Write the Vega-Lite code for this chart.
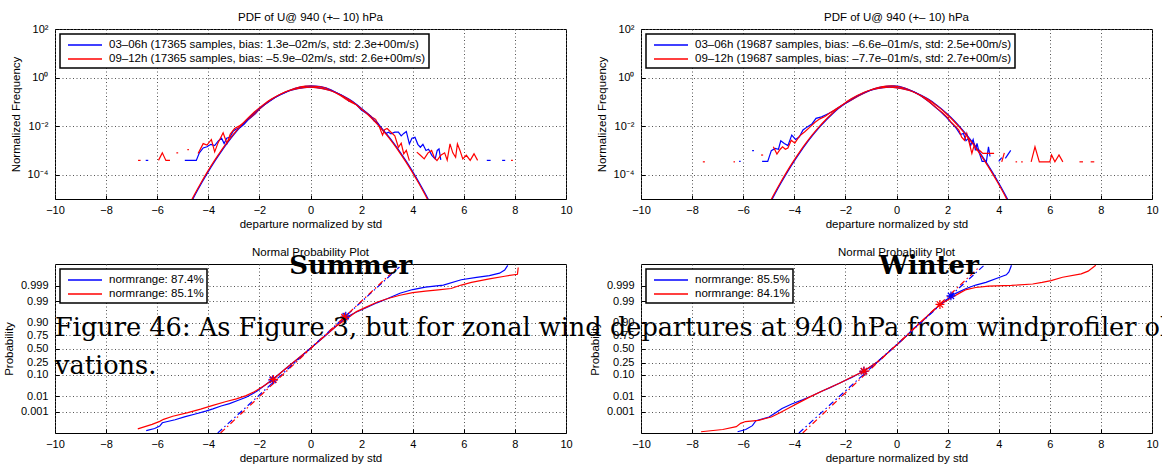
{
"$schema": "https://vega.github.io/schema/vega-lite/v6.json",
"autosize": "none",
"padding": {"left": 55, "top": 29, "right": 1107, "bottom": 435},
"background": "white",
"columns": 2,
"bounds": "flush",
"spacing": {"row": 65, "column": 75},
"resolve": {"scale": {"color": "independent", "stroke": "independent", "x": "independent", "y": "independent"}, "legend": {"color": "independent", "stroke": "independent"}},
"config": {
  "font": "Liberation Sans",
  "view": {"stroke": "black", "strokeWidth": 1},
  "axis": {"labelFont": "Liberation Sans", "labelFontSize": 11, "labelColor": "black", "titleFont": "Liberation Sans", "titleFontSize": 11.5, "titleFontWeight": "normal", "titleColor": "black", "domain": false, "ticks": true, "tickSize": -4, "tickColor": "black", "tickWidth": 1, "grid": true, "gridColor": "#555", "gridDash": [1, 2.5], "gridWidth": 1, "labelFlush": false, "labelOverlap": false},
  "axisX": {"labelPadding": 9, "titlePadding": 3},
  "axisY": {"labelPadding": 11, "titlePadding": 6},
  "title": {"font": "Liberation Sans", "fontSize": 11.5, "fontWeight": "normal", "color": "black", "anchor": "middle"},
  "legend": {"orient": "top-left", "offset": 5, "padding": 3, "strokeColor": "black", "strokeWidth": 1.5, "fillColor": "white", "symbolType": "M-2.43,0L2.43,0", "symbolSize": 196, "symbolStrokeWidth": 1.3, "symbolOffset": 14, "labelOffset": 16, "labelFont": "Liberation Sans", "labelFontSize": 11.5, "labelColor": "black", "labelLimit": 0, "rowPadding": 0}
},
"datasets": {
  "empS": [
    {"s":"b","g":1,"x":-6.45,"y":0.000389},{"s":"b","g":1,"x":-6.35,"y":0.000389},
    {"s":"b","g":2,"x":-4.92,"y":0.000389},{"s":"b","g":2,"x":-4.47,"y":0.000389},{"s":"b","g":2,"x":-4.35,"y":0.000794},{"s":"b","g":2,"x":-4.2,"y":0.00126},{"s":"b","g":2,"x":-4.05,"y":0.00141},{"s":"b","g":2,"x":-3.9,"y":0.00178},{"s":"b","g":2,"x":-3.75,"y":0.00158},{"s":"b","g":2,"x":-3.6,"y":0.00251},{"s":"b","g":2,"x":-3.48,"y":0.00316},{"s":"b","g":2,"x":-3.38,"y":0.00191},{"s":"b","g":2,"x":-3.28,"y":0.00316},{"s":"b","g":2,"x":-3.15,"y":0.00355},{"s":"b","g":2,"x":-3.02,"y":0.00631},{"s":"b","g":2,"x":-2.9,"y":0.00759},{"s":"b","g":2,"x":-2.75,"y":0.00891},{"s":"b","g":2,"x":-2.6,"y":0.012},{"s":"b","g":2,"x":-2.45,"y":0.0178},{"s":"b","g":2,"x":-2.3,"y":0.024},{"s":"b","g":2,"x":-2.15,"y":0.0331},{"s":"b","g":2,"x":-2.0,"y":0.0501},{"s":"b","g":2,"x":-1.8,"y":0.0759},{"s":"b","g":2,"x":-1.6,"y":0.107},{"s":"b","g":2,"x":-1.4,"y":0.148},{"s":"b","g":2,"x":-1.2,"y":0.191},{"s":"b","g":2,"x":-1.0,"y":0.24},{"s":"b","g":2,"x":-0.8,"y":0.302},{"s":"b","g":2,"x":-0.6,"y":0.363},{"s":"b","g":2,"x":-0.4,"y":0.407},{"s":"b","g":2,"x":-0.2,"y":0.437},{"s":"b","g":2,"x":0,"y":0.457},{"s":"b","g":2,"x":0.2,"y":0.447},{"s":"b","g":2,"x":0.4,"y":0.427},{"s":"b","g":2,"x":0.6,"y":0.38},{"s":"b","g":2,"x":0.8,"y":0.316},{"s":"b","g":2,"x":1.0,"y":0.24},{"s":"b","g":2,"x":1.2,"y":0.191},{"s":"b","g":2,"x":1.4,"y":0.138},{"s":"b","g":2,"x":1.5,"y":0.107},{"s":"b","g":2,"x":1.6,"y":0.105},{"s":"b","g":2,"x":1.8,"y":0.0759},{"s":"b","g":2,"x":2.0,"y":0.0447},{"s":"b","g":2,"x":2.2,"y":0.0331},{"s":"b","g":2,"x":2.35,"y":0.0263},{"s":"b","g":2,"x":2.5,"y":0.0158},{"s":"b","g":2,"x":2.62,"y":0.0141},{"s":"b","g":2,"x":2.75,"y":0.00891},{"s":"b","g":2,"x":2.85,"y":0.00631},{"s":"b","g":2,"x":2.95,"y":0.00501},{"s":"b","g":2,"x":3.05,"y":0.00562},{"s":"b","g":2,"x":3.15,"y":0.00479},{"s":"b","g":2,"x":3.3,"y":0.00562},{"s":"b","g":2,"x":3.44,"y":0.00562},{"s":"b","g":2,"x":3.55,"y":0.00398},{"s":"b","g":2,"x":3.65,"y":0.00501},{"s":"b","g":2,"x":3.75,"y":0.00603},{"s":"b","g":2,"x":3.87,"y":0.00186},{"s":"b","g":2,"x":3.97,"y":0.00316},{"s":"b","g":2,"x":4.09,"y":0.00347},{"s":"b","g":2,"x":4.2,"y":0.00178},{"s":"b","g":2,"x":4.3,"y":0.00135},{"s":"b","g":2,"x":4.4,"y":0.00178},{"s":"b","g":2,"x":4.52,"y":0.001},{"s":"b","g":2,"x":4.62,"y":0.00112},{"s":"b","g":2,"x":4.75,"y":0.000631},{"s":"b","g":2,"x":4.88,"y":0.000447},{"s":"b","g":2,"x":4.96,"y":0.001},{"s":"b","g":2,"x":5.03,"y":0.00115},{"s":"b","g":2,"x":5.1,"y":0.000407},
    {"s":"b","g":3,"x":6.9,"y":0.000389},{"s":"b","g":3,"x":7.05,"y":0.000389},
    {"s":"b","g":4,"x":7.5,"y":0.000389},{"s":"b","g":4,"x":7.62,"y":0.000389},
    {"s":"r","g":5,"x":-6.75,"y":0.000389},{"s":"r","g":5,"x":-6.65,"y":0.000389},
    {"s":"r","g":6,"x":-5.95,"y":0.000389},{"s":"r","g":6,"x":-5.8,"y":0.000794},{"s":"r","g":6,"x":-5.66,"y":0.000389},{"s":"r","g":6,"x":-5.5,"y":0.000389},
    {"s":"r","g":7,"x":-5.25,"y":0.000794},{"s":"r","g":7,"x":-5.18,"y":0.000794},
    {"s":"r","g":8,"x":-4.82,"y":0.00107},{"s":"r","g":8,"x":-4.76,"y":0.00107},
    {"s":"r","g":9,"x":-4.4,"y":0.000741},{"s":"r","g":9,"x":-4.2,"y":0.00191},{"s":"r","g":9,"x":-4.05,"y":0.00166},{"s":"r","g":9,"x":-3.88,"y":0.00282},{"s":"r","g":9,"x":-3.75,"y":0.000871},{"s":"r","g":9,"x":-3.62,"y":0.00204},{"s":"r","g":9,"x":-3.42,"y":0.00537},{"s":"r","g":9,"x":-3.27,"y":0.00195},{"s":"r","g":9,"x":-3.14,"y":0.00468},{"s":"r","g":9,"x":-2.97,"y":0.00794},{"s":"r","g":9,"x":-2.8,"y":0.01},{"s":"r","g":9,"x":-2.6,"y":0.0141},{"s":"r","g":9,"x":-2.45,"y":0.0191},{"s":"r","g":9,"x":-2.3,"y":0.0251},{"s":"r","g":9,"x":-2.15,"y":0.0355},{"s":"r","g":9,"x":-2.0,"y":0.0501},{"s":"r","g":9,"x":-1.8,"y":0.0759},{"s":"r","g":9,"x":-1.6,"y":0.11},{"s":"r","g":9,"x":-1.4,"y":0.151},{"s":"r","g":9,"x":-1.2,"y":0.2},{"s":"r","g":9,"x":-1.0,"y":0.251},{"s":"r","g":9,"x":-0.8,"y":0.309},{"s":"r","g":9,"x":-0.6,"y":0.363},{"s":"r","g":9,"x":-0.4,"y":0.417},{"s":"r","g":9,"x":-0.2,"y":0.447},{"s":"r","g":9,"x":0,"y":0.447},{"s":"r","g":9,"x":0.2,"y":0.437},{"s":"r","g":9,"x":0.4,"y":0.417},{"s":"r","g":9,"x":0.6,"y":0.372},{"s":"r","g":9,"x":0.8,"y":0.302},{"s":"r","g":9,"x":1.0,"y":0.234},{"s":"r","g":9,"x":1.2,"y":0.174},{"s":"r","g":9,"x":1.4,"y":0.126},{"s":"r","g":9,"x":1.6,"y":0.0955},{"s":"r","g":9,"x":1.8,"y":0.0759},{"s":"r","g":9,"x":2.0,"y":0.0479},{"s":"r","g":9,"x":2.2,"y":0.0355},{"s":"r","g":9,"x":2.4,"y":0.024},{"s":"r","g":9,"x":2.55,"y":0.0191},{"s":"r","g":9,"x":2.7,"y":0.00891},{"s":"r","g":9,"x":2.82,"y":0.00427},{"s":"r","g":9,"x":2.9,"y":0.00708},{"s":"r","g":9,"x":3.0,"y":0.00794},{"s":"r","g":9,"x":3.15,"y":0.00562},{"s":"r","g":9,"x":3.3,"y":0.00398},{"s":"r","g":9,"x":3.44,"y":0.00135},{"s":"r","g":9,"x":3.55,"y":0.002},{"s":"r","g":9,"x":3.65,"y":0.000724},{"s":"r","g":9,"x":3.75,"y":0.001},{"s":"r","g":9,"x":3.87,"y":0.00038},
    {"s":"r","g":10,"x":4.16,"y":0.000851},{"s":"r","g":10,"x":4.3,"y":0.000631},{"s":"r","g":10,"x":4.45,"y":0.000447},{"s":"r","g":10,"x":4.6,"y":0.000794},{"s":"r","g":10,"x":4.74,"y":0.001},{"s":"r","g":10,"x":4.85,"y":0.000501},{"s":"r","g":10,"x":4.95,"y":0.00038},{"s":"r","g":10,"x":5.1,"y":0.000631},{"s":"r","g":10,"x":5.25,"y":0.000794},{"s":"r","g":10,"x":5.35,"y":0.000398},{"s":"r","g":10,"x":5.46,"y":0.00186},{"s":"r","g":10,"x":5.57,"y":0.000794},{"s":"r","g":10,"x":5.68,"y":0.000525},{"s":"r","g":10,"x":5.75,"y":0.00186},{"s":"r","g":10,"x":5.85,"y":0.001},{"s":"r","g":10,"x":5.96,"y":0.000447},{"s":"r","g":10,"x":6.1,"y":0.000631},{"s":"r","g":10,"x":6.25,"y":0.000389},{"s":"r","g":10,"x":6.4,"y":0.000724},{"s":"r","g":10,"x":6.54,"y":0.000389},
    {"s":"r","g":11,"x":7.85,"y":0.000389},{"s":"r","g":11,"x":7.92,"y":0.000389}
  ],
  "empW": [
    {"s":"b","g":1,"x":-6.16,"y":0.000355},{"s":"b","g":1,"x":-6.1,"y":0.000355},
    {"s":"b","g":2,"x":-5.65,"y":0.000977},{"s":"b","g":2,"x":-5.58,"y":0.000977},
    {"s":"b","g":3,"x":-5.26,"y":0.000355},{"s":"b","g":3,"x":-5.04,"y":0.000355},{"s":"b","g":3,"x":-4.9,"y":0.000977},{"s":"b","g":3,"x":-4.75,"y":0.0012},{"s":"b","g":3,"x":-4.62,"y":0.00112},{"s":"b","g":3,"x":-4.53,"y":0.00251},{"s":"b","g":3,"x":-4.39,"y":0.00195},{"s":"b","g":3,"x":-4.25,"y":0.00158},{"s":"b","g":3,"x":-4.1,"y":0.00427},{"s":"b","g":3,"x":-3.95,"y":0.00282},{"s":"b","g":3,"x":-3.8,"y":0.00363},{"s":"b","g":3,"x":-3.66,"y":0.00692},{"s":"b","g":3,"x":-3.49,"y":0.00933},{"s":"b","g":3,"x":-3.3,"y":0.0126},{"s":"b","g":3,"x":-3.15,"y":0.0209},{"s":"b","g":3,"x":-2.93,"y":0.024},{"s":"b","g":3,"x":-2.7,"y":0.0316},{"s":"b","g":3,"x":-2.5,"y":0.0398},{"s":"b","g":3,"x":-2.3,"y":0.0562},{"s":"b","g":3,"x":-2.1,"y":0.0759},{"s":"b","g":3,"x":-1.9,"y":0.1},{"s":"b","g":3,"x":-1.7,"y":0.132},{"s":"b","g":3,"x":-1.5,"y":0.174},{"s":"b","g":3,"x":-1.3,"y":0.224},{"s":"b","g":3,"x":-1.1,"y":0.275},{"s":"b","g":3,"x":-0.9,"y":0.339},{"s":"b","g":3,"x":-0.7,"y":0.389},{"s":"b","g":3,"x":-0.5,"y":0.427},{"s":"b","g":3,"x":-0.3,"y":0.447},{"s":"b","g":3,"x":-0.1,"y":0.457},{"s":"b","g":3,"x":0.1,"y":0.437},{"s":"b","g":3,"x":0.3,"y":0.38},{"s":"b","g":3,"x":0.5,"y":0.316},{"s":"b","g":3,"x":0.7,"y":0.251},{"s":"b","g":3,"x":0.9,"y":0.191},{"s":"b","g":3,"x":1.1,"y":0.138},{"s":"b","g":3,"x":1.3,"y":0.0955},{"s":"b","g":3,"x":1.5,"y":0.0631},{"s":"b","g":3,"x":1.7,"y":0.0417},{"s":"b","g":3,"x":1.9,"y":0.0263},{"s":"b","g":3,"x":2.05,"y":0.0178},{"s":"b","g":3,"x":2.2,"y":0.012},{"s":"b","g":3,"x":2.35,"y":0.00794},{"s":"b","g":3,"x":2.5,"y":0.00447},{"s":"b","g":3,"x":2.62,"y":0.00501},{"s":"b","g":3,"x":2.72,"y":0.00251},{"s":"b","g":3,"x":2.82,"y":0.00316},{"s":"b","g":3,"x":2.9,"y":0.00158},{"s":"b","g":3,"x":3.0,"y":0.00282},{"s":"b","g":3,"x":3.09,"y":0.001},{"s":"b","g":3,"x":3.15,"y":0.00195},{"s":"b","g":3,"x":3.24,"y":0.000794},{"s":"b","g":3,"x":3.35,"y":0.000355},{"s":"b","g":3,"x":3.52,"y":0.000355},{"s":"b","g":3,"x":3.6,"y":0.00141},{"s":"b","g":3,"x":3.66,"y":0.000562},
    {"s":"b","g":4,"x":4.0,"y":0.000355},{"s":"b","g":4,"x":4.12,"y":0.000501},
    {"s":"b","g":5,"x":4.26,"y":0.000468},{"s":"b","g":5,"x":4.47,"y":0.001},
    {"s":"r","g":6,"x":-7.58,"y":0.000339},{"s":"r","g":6,"x":-7.5,"y":0.000339},
    {"s":"r","g":7,"x":-6.38,"y":0.000339},{"s":"r","g":7,"x":-6.32,"y":0.000339},
    {"s":"r","g":8,"x":-5.3,"y":0.000646},{"s":"r","g":8,"x":-5.22,"y":0.000646},
    {"s":"r","g":9,"x":-4.82,"y":0.00141},{"s":"r","g":9,"x":-4.68,"y":0.000708},{"s":"r","g":9,"x":-4.55,"y":0.00112},{"s":"r","g":9,"x":-4.46,"y":0.00141},{"s":"r","g":9,"x":-4.35,"y":0.00112},{"s":"r","g":9,"x":-4.25,"y":0.00126},{"s":"r","g":9,"x":-4.12,"y":0.00263},{"s":"r","g":9,"x":-3.98,"y":0.002},{"s":"r","g":9,"x":-3.8,"y":0.00389},{"s":"r","g":9,"x":-3.59,"y":0.00589},{"s":"r","g":9,"x":-3.4,"y":0.00891},{"s":"r","g":9,"x":-3.2,"y":0.0141},{"s":"r","g":9,"x":-3.0,"y":0.02},{"s":"r","g":9,"x":-2.8,"y":0.0251},{"s":"r","g":9,"x":-2.6,"y":0.0355},{"s":"r","g":9,"x":-2.4,"y":0.0479},{"s":"r","g":9,"x":-2.2,"y":0.0661},{"s":"r","g":9,"x":-2.0,"y":0.0871},{"s":"r","g":9,"x":-1.8,"y":0.115},{"s":"r","g":9,"x":-1.6,"y":0.151},{"s":"r","g":9,"x":-1.4,"y":0.195},{"s":"r","g":9,"x":-1.2,"y":0.251},{"s":"r","g":9,"x":-1.0,"y":0.316},{"s":"r","g":9,"x":-0.8,"y":0.372},{"s":"r","g":9,"x":-0.6,"y":0.417},{"s":"r","g":9,"x":-0.4,"y":0.447},{"s":"r","g":9,"x":-0.2,"y":0.457},{"s":"r","g":9,"x":0.0,"y":0.437},{"s":"r","g":9,"x":0.2,"y":0.398},{"s":"r","g":9,"x":0.4,"y":0.347},{"s":"r","g":9,"x":0.6,"y":0.282},{"s":"r","g":9,"x":0.8,"y":0.219},{"s":"r","g":9,"x":1.0,"y":0.166},{"s":"r","g":9,"x":1.2,"y":0.117},{"s":"r","g":9,"x":1.4,"y":0.0794},{"s":"r","g":9,"x":1.6,"y":0.0525},{"s":"r","g":9,"x":1.8,"y":0.0355},{"s":"r","g":9,"x":2.0,"y":0.0224},{"s":"r","g":9,"x":2.15,"y":0.0141},{"s":"r","g":9,"x":2.3,"y":0.01},{"s":"r","g":9,"x":2.44,"y":0.00692},{"s":"r","g":9,"x":2.55,"y":0.00355},{"s":"r","g":9,"x":2.66,"y":0.00263},{"s":"r","g":9,"x":2.75,"y":0.00501},{"s":"r","g":9,"x":2.85,"y":0.002},{"s":"r","g":9,"x":2.95,"y":0.000759},{"s":"r","g":9,"x":3.05,"y":0.00178},{"s":"r","g":9,"x":3.15,"y":0.001},{"s":"r","g":9,"x":3.24,"y":0.00102},{"s":"r","g":9,"x":3.38,"y":0.000759},{"s":"r","g":9,"x":3.55,"y":0.000759},{"s":"r","g":9,"x":3.82,"y":0.000759},
    {"s":"r","g":10,"x":4.12,"y":0.000339},{"s":"r","g":10,"x":4.22,"y":0.000794},
    {"s":"r","g":11,"x":4.66,"y":0.000339},{"s":"r","g":11,"x":4.72,"y":0.000339},
    {"s":"r","g":12,"x":4.88,"y":0.000339},{"s":"r","g":12,"x":4.94,"y":0.000339},
    {"s":"r","g":13,"x":5.27,"y":0.000339},{"s":"r","g":13,"x":5.42,"y":0.00141},{"s":"r","g":13,"x":5.59,"y":0.000339},{"s":"r","g":13,"x":5.8,"y":0.000339},{"s":"r","g":13,"x":6.0,"y":0.000339},{"s":"r","g":13,"x":6.07,"y":0.000646},{"s":"r","g":13,"x":6.2,"y":0.000339},{"s":"r","g":13,"x":6.36,"y":0.000646},{"s":"r","g":13,"x":6.51,"y":0.000339},
    {"s":"r","g":14,"x":7.16,"y":0.000339},{"s":"r","g":14,"x":7.3,"y":0.000339},
    {"s":"r","g":15,"x":7.6,"y":0.000339},{"s":"r","g":15,"x":7.74,"y":0.000339}
  ],
  "gauS": [
    {"s":"b","x":-4.75,"y":5.03e-6},{"s":"b","x":-4.5,"y":1.6e-5},{"s":"b","x":-4.25,"y":4.77e-5},{"s":"b","x":-4,"y":1.34e-4},{"s":"b","x":-3.75,"y":3.53e-4},{"s":"b","x":-3.5,"y":8.73e-4},{"s":"b","x":-3.25,"y":0.00203},{"s":"b","x":-3,"y":0.00443},{"s":"b","x":-2.75,"y":0.00909},{"s":"b","x":-2.5,"y":0.0175},{"s":"b","x":-2.25,"y":0.0317},{"s":"b","x":-2,"y":0.054},{"s":"b","x":-1.75,"y":0.0863},{"s":"b","x":-1.5,"y":0.1295},{"s":"b","x":-1.25,"y":0.1826},{"s":"b","x":-1,"y":0.242},{"s":"b","x":-0.75,"y":0.3011},{"s":"b","x":-0.5,"y":0.3521},{"s":"b","x":-0.25,"y":0.3867},{"s":"b","x":0,"y":0.3989},{"s":"b","x":0.25,"y":0.3867},{"s":"b","x":0.5,"y":0.3521},{"s":"b","x":0.75,"y":0.3011},{"s":"b","x":1,"y":0.242},{"s":"b","x":1.25,"y":0.1826},{"s":"b","x":1.5,"y":0.1295},{"s":"b","x":1.75,"y":0.0863},{"s":"b","x":2,"y":0.054},{"s":"b","x":2.25,"y":0.0317},{"s":"b","x":2.5,"y":0.0175},{"s":"b","x":2.75,"y":0.00909},{"s":"b","x":3,"y":0.00443},{"s":"b","x":3.25,"y":0.00203},{"s":"b","x":3.5,"y":8.73e-4},{"s":"b","x":3.75,"y":3.53e-4},{"s":"b","x":4,"y":1.34e-4},{"s":"b","x":4.25,"y":4.77e-5},{"s":"b","x":4.5,"y":1.6e-5},{"s":"b","x":4.75,"y":5.03e-6},
    {"s":"r","x":-4.78,"y":5.03e-6},{"s":"r","x":-4.53,"y":1.6e-5},{"s":"r","x":-4.28,"y":4.77e-5},{"s":"r","x":-4.03,"y":1.34e-4},{"s":"r","x":-3.78,"y":3.53e-4},{"s":"r","x":-3.53,"y":8.73e-4},{"s":"r","x":-3.28,"y":0.00203},{"s":"r","x":-3.03,"y":0.00443},{"s":"r","x":-2.78,"y":0.00909},{"s":"r","x":-2.53,"y":0.0175},{"s":"r","x":-2.28,"y":0.0317},{"s":"r","x":-2.03,"y":0.054},{"s":"r","x":-1.78,"y":0.0863},{"s":"r","x":-1.53,"y":0.1295},{"s":"r","x":-1.28,"y":0.1826},{"s":"r","x":-1.03,"y":0.242},{"s":"r","x":-0.78,"y":0.3011},{"s":"r","x":-0.53,"y":0.3521},{"s":"r","x":-0.28,"y":0.3867},{"s":"r","x":-0.03,"y":0.3989},{"s":"r","x":0.22,"y":0.3867},{"s":"r","x":0.47,"y":0.3521},{"s":"r","x":0.72,"y":0.3011},{"s":"r","x":0.97,"y":0.242},{"s":"r","x":1.22,"y":0.1826},{"s":"r","x":1.47,"y":0.1295},{"s":"r","x":1.72,"y":0.0863},{"s":"r","x":1.97,"y":0.054},{"s":"r","x":2.22,"y":0.0317},{"s":"r","x":2.47,"y":0.0175},{"s":"r","x":2.72,"y":0.00909},{"s":"r","x":2.97,"y":0.00443},{"s":"r","x":3.22,"y":0.00203},{"s":"r","x":3.47,"y":8.73e-4},{"s":"r","x":3.72,"y":3.53e-4},{"s":"r","x":3.97,"y":1.34e-4},{"s":"r","x":4.22,"y":4.77e-5},{"s":"r","x":4.47,"y":1.6e-5},{"s":"r","x":4.72,"y":5.03e-6}
  ],
  "gauW": [
    {"s":"b","x":-5.01,"y":5.03e-6},{"s":"b","x":-4.76,"y":1.6e-5},{"s":"b","x":-4.51,"y":4.77e-5},{"s":"b","x":-4.26,"y":1.34e-4},{"s":"b","x":-4.01,"y":3.53e-4},{"s":"b","x":-3.76,"y":8.73e-4},{"s":"b","x":-3.51,"y":0.00203},{"s":"b","x":-3.26,"y":0.00443},{"s":"b","x":-3.01,"y":0.00909},{"s":"b","x":-2.76,"y":0.0175},{"s":"b","x":-2.51,"y":0.0317},{"s":"b","x":-2.26,"y":0.054},{"s":"b","x":-2.01,"y":0.0863},{"s":"b","x":-1.76,"y":0.1295},{"s":"b","x":-1.51,"y":0.1826},{"s":"b","x":-1.26,"y":0.242},{"s":"b","x":-1.01,"y":0.3011},{"s":"b","x":-0.76,"y":0.3521},{"s":"b","x":-0.51,"y":0.3867},{"s":"b","x":-0.26,"y":0.3989},{"s":"b","x":-0.01,"y":0.3867},{"s":"b","x":0.24,"y":0.3521},{"s":"b","x":0.49,"y":0.3011},{"s":"b","x":0.74,"y":0.242},{"s":"b","x":0.99,"y":0.1826},{"s":"b","x":1.24,"y":0.1295},{"s":"b","x":1.49,"y":0.0863},{"s":"b","x":1.74,"y":0.054},{"s":"b","x":1.99,"y":0.0317},{"s":"b","x":2.24,"y":0.0175},{"s":"b","x":2.49,"y":0.00909},{"s":"b","x":2.74,"y":0.00443},{"s":"b","x":2.99,"y":0.00203},{"s":"b","x":3.24,"y":8.73e-4},{"s":"b","x":3.49,"y":3.53e-4},{"s":"b","x":3.74,"y":1.34e-4},{"s":"b","x":3.99,"y":4.77e-5},{"s":"b","x":4.24,"y":1.6e-5},{"s":"b","x":4.49,"y":5.03e-6},
    {"s":"r","x":-5.04,"y":5.03e-6},{"s":"r","x":-4.79,"y":1.6e-5},{"s":"r","x":-4.54,"y":4.77e-5},{"s":"r","x":-4.29,"y":1.34e-4},{"s":"r","x":-4.04,"y":3.53e-4},{"s":"r","x":-3.79,"y":8.73e-4},{"s":"r","x":-3.54,"y":0.00203},{"s":"r","x":-3.29,"y":0.00443},{"s":"r","x":-3.04,"y":0.00909},{"s":"r","x":-2.79,"y":0.0175},{"s":"r","x":-2.54,"y":0.0317},{"s":"r","x":-2.29,"y":0.054},{"s":"r","x":-2.04,"y":0.0863},{"s":"r","x":-1.79,"y":0.1295},{"s":"r","x":-1.54,"y":0.1826},{"s":"r","x":-1.29,"y":0.242},{"s":"r","x":-1.04,"y":0.3011},{"s":"r","x":-0.79,"y":0.3521},{"s":"r","x":-0.54,"y":0.3867},{"s":"r","x":-0.29,"y":0.3989},{"s":"r","x":-0.04,"y":0.3867},{"s":"r","x":0.21,"y":0.3521},{"s":"r","x":0.46,"y":0.3011},{"s":"r","x":0.71,"y":0.242},{"s":"r","x":0.96,"y":0.1826},{"s":"r","x":1.21,"y":0.1295},{"s":"r","x":1.46,"y":0.0863},{"s":"r","x":1.71,"y":0.054},{"s":"r","x":1.96,"y":0.0317},{"s":"r","x":2.21,"y":0.0175},{"s":"r","x":2.46,"y":0.00909},{"s":"r","x":2.71,"y":0.00443},{"s":"r","x":2.96,"y":0.00203},{"s":"r","x":3.21,"y":8.73e-4},{"s":"r","x":3.46,"y":3.53e-4},{"s":"r","x":3.71,"y":1.34e-4},{"s":"r","x":3.96,"y":4.77e-5},{"s":"r","x":4.21,"y":1.6e-5},{"s":"r","x":4.46,"y":5.03e-6}
  ],
  "npS": [
    {"s":"b","x":-6.43,"z":-4.0},{"s":"b","x":-6.1,"z":-3.9},{"s":"b","x":-5.9,"z":-3.78},{"s":"b","x":-5.8,"z":-3.62},{"s":"b","x":-5.3,"z":-3.47},{"s":"b","x":-4.9,"z":-3.32},{"s":"b","x":-4.47,"z":-3.18},{"s":"b","x":-4.1,"z":-3.05},{"s":"b","x":-3.82,"z":-2.94},{"s":"b","x":-3.5,"z":-2.8},{"s":"b","x":-3.17,"z":-2.68},{"s":"b","x":-2.85,"z":-2.53},{"s":"b","x":-2.52,"z":-2.37},{"s":"b","x":-2.3,"z":-2.22},{"s":"b","x":-2.1,"z":-2.08},{"s":"b","x":-1.8,"z":-1.8},{"s":"b","x":-1.48,"z":-1.5},{"s":"b","x":-1.0,"z":-1.0},{"s":"b","x":-0.5,"z":-0.5},{"s":"b","x":0,"z":0.02},{"s":"b","x":0.5,"z":0.55},{"s":"b","x":1.0,"z":1.1},{"s":"b","x":1.4,"z":1.55},{"s":"b","x":1.8,"z":1.8},{"s":"b","x":2.2,"z":2.02},{"s":"b","x":2.6,"z":2.25},{"s":"b","x":3.0,"z":2.45},{"s":"b","x":3.5,"z":2.72},{"s":"b","x":4.0,"z":2.9},{"s":"b","x":4.5,"z":3.02},{"s":"b","x":5.2,"z":3.12},{"s":"b","x":5.9,"z":3.38},{"s":"b","x":6.5,"z":3.5},{"s":"b","x":7.0,"z":3.58},{"s":"b","x":7.4,"z":3.7},{"s":"b","x":7.6,"z":3.85},{"s":"b","x":7.72,"z":4.08},
    {"s":"r","x":-6.76,"z":-3.92},{"s":"r","x":-6.2,"z":-3.7},{"s":"r","x":-5.9,"z":-3.55},{"s":"r","x":-5.75,"z":-3.45},{"s":"r","x":-5.39,"z":-3.3},{"s":"r","x":-4.8,"z":-3.12},{"s":"r","x":-4.3,"z":-2.95},{"s":"r","x":-3.82,"z":-2.77},{"s":"r","x":-3.3,"z":-2.58},{"s":"r","x":-2.9,"z":-2.45},{"s":"r","x":-2.52,"z":-2.29},{"s":"r","x":-2.2,"z":-2.1},{"s":"r","x":-1.8,"z":-1.8},{"s":"r","x":-1.45,"z":-1.48},{"s":"r","x":-1.0,"z":-1.0},{"s":"r","x":-0.5,"z":-0.48},{"s":"r","x":0,"z":0.03},{"s":"r","x":0.5,"z":0.56},{"s":"r","x":1.0,"z":1.1},{"s":"r","x":1.45,"z":1.5},{"s":"r","x":1.8,"z":1.82},{"s":"r","x":2.2,"z":2.05},{"s":"r","x":2.6,"z":2.28},{"s":"r","x":3.0,"z":2.45},{"s":"r","x":3.5,"z":2.62},{"s":"r","x":4.0,"z":2.75},{"s":"r","x":4.5,"z":2.82},{"s":"r","x":5.0,"z":2.88},{"s":"r","x":5.5,"z":2.95},{"s":"r","x":5.9,"z":3.12},{"s":"r","x":6.3,"z":3.25},{"s":"r","x":7.0,"z":3.42},{"s":"r","x":7.6,"z":3.55},{"s":"r","x":8.1,"z":3.65},{"s":"r","x":8.13,"z":3.98}
  ],
  "npW": [
    {"s":"b","x":-6.22,"z":-4.06},{"s":"b","x":-5.9,"z":-3.95},{"s":"b","x":-5.64,"z":-3.76},{"s":"b","x":-5.5,"z":-3.52},{"s":"b","x":-5.2,"z":-3.42},{"s":"b","x":-4.99,"z":-3.34},{"s":"b","x":-4.7,"z":-3.1},{"s":"b","x":-4.48,"z":-2.92},{"s":"b","x":-4.1,"z":-2.7},{"s":"b","x":-3.68,"z":-2.5},{"s":"b","x":-3.3,"z":-2.3},{"s":"b","x":-2.95,"z":-2.09},{"s":"b","x":-2.6,"z":-1.9},{"s":"b","x":-2.22,"z":-1.67},{"s":"b","x":-1.75,"z":-1.4},{"s":"b","x":-1.28,"z":-1.09},{"s":"b","x":-0.77,"z":-0.67},{"s":"b","x":-0.3,"z":-0.15},{"s":"b","x":0.2,"z":0.4},{"s":"b","x":0.68,"z":1.0},{"s":"b","x":1.1,"z":1.45},{"s":"b","x":1.41,"z":1.84},{"s":"b","x":1.7,"z":2.15},{"s":"b","x":1.99,"z":2.42},{"s":"b","x":2.3,"z":2.7},{"s":"b","x":2.73,"z":2.95},{"s":"b","x":3.1,"z":3.12},{"s":"b","x":3.5,"z":3.25},{"s":"b","x":4.04,"z":3.5},{"s":"b","x":4.3,"z":3.62},{"s":"b","x":4.4,"z":3.76},{"s":"b","x":4.5,"z":4.09},
    {"s":"r","x":-7.65,"z":-4.06},{"s":"r","x":-6.8,"z":-3.95},{"s":"r","x":-6.27,"z":-3.81},{"s":"r","x":-6.1,"z":-3.65},{"s":"r","x":-5.91,"z":-3.56},{"s":"r","x":-5.4,"z":-3.5},{"s":"r","x":-4.9,"z":-3.34},{"s":"r","x":-4.6,"z":-3.15},{"s":"r","x":-4.25,"z":-2.92},{"s":"r","x":-3.8,"z":-2.62},{"s":"r","x":-3.37,"z":-2.34},{"s":"r","x":-2.8,"z":-2.0},{"s":"r","x":-2.21,"z":-1.67},{"s":"r","x":-1.75,"z":-1.38},{"s":"r","x":-1.27,"z":-1.09},{"s":"r","x":-0.77,"z":-0.66},{"s":"r","x":-0.3,"z":-0.15},{"s":"r","x":0.2,"z":0.4},{"s":"r","x":0.68,"z":0.98},{"s":"r","x":1.2,"z":1.6},{"s":"r","x":1.71,"z":2.17},{"s":"r","x":2.15,"z":2.5},{"s":"r","x":2.5,"z":2.75},{"s":"r","x":2.73,"z":2.9},{"s":"r","x":3.1,"z":3.0},{"s":"r","x":3.6,"z":3.07},{"s":"r","x":4.5,"z":3.1},{"s":"r","x":5.33,"z":3.17},{"s":"r","x":5.7,"z":3.25},{"s":"r","x":6.05,"z":3.34},{"s":"r","x":6.5,"z":3.5},{"s":"r","x":7.23,"z":3.67},{"s":"r","x":7.5,"z":3.8},{"s":"r","x":7.8,"z":4.09}
  ],
  "fitS": [
    {"s":"b","x":-3.63,"z":-4.12},{"s":"b","x":3.48,"z":4.0},
    {"s":"r","x":-3.52,"z":-4.12},{"s":"r","x":3.42,"z":4.0}
  ],
  "fitW": [
    {"s":"b","x":-3.82,"z":-4.12},{"s":"b","x":3.53,"z":4.2},
    {"s":"r","x":-3.67,"z":-4.12},{"s":"r","x":3.24,"z":4.0}
  ],
  "starS": [
    {"s":"b","x":-1.48,"z":-1.52},{"s":"b","x":1.38,"z":1.6},
    {"s":"r","x":-1.45,"z":-1.5},{"s":"r","x":1.33,"z":1.55}
  ],
  "starW": [
    {"s":"b","x":-1.28,"z":-1.1},{"s":"b","x":2.13,"z":2.59},
    {"s":"r","x":-1.27,"z":-1.09},{"s":"r","x":1.7,"z":2.17}
  ]
},
"concat": [
  {
    "width": 511, "height": 170,
    "title": {"text": "PDF of U@ 940 (+– 10) hPa", "offset": 0},
    "encoding": {
      "x": {"field": "x", "type": "quantitative", "scale": {"domain": [-10, 10], "nice": false, "zero": false}, "axis": {"values": [-10,-8,-6,-4,-2,0,2,4,6,8,10], "title": "departure normalized by std"}},
      "y": {"field": "y", "type": "quantitative", "scale": {"type": "log", "domain": [0.00001, 100], "nice": false}, "axis": {"values": [0.0001, 0.01, 1, 100], "labelExpr": "datum.value > 10 ? '10²' : datum.value > 0.1 ? '10⁰' : datum.value > 0.001 ? '10⁻²' : '10⁻⁴'", "title": "Normalized Frequency"}}
    },
    "layer": [
      {"data": {"name": "empS"}, "mark": {"type": "line", "strokeWidth": 1.2, "clip": true},
       "encoding": {"color": {"field": "s", "type": "nominal", "scale": {"domain": ["b","r"], "range": ["#0000ff","#ff0000"]}, "legend": {"title": null, "labelExpr": "datum.value == 'b' ? '03–06h (17365 samples, bias: 1.3e–02m/s, std: 2.3e+00m/s)' : '09–12h (17365 samples, bias: –5.9e–02m/s, std: 2.6e+00m/s)'"}}, "detail": {"field": "g", "type": "nominal"}}},
      {"data": {"name": "gauS"}, "mark": {"type": "line", "strokeWidth": 1.2, "clip": true, "interpolate": "monotone"},
       "encoding": {"color": {"field": "s", "type": "nominal", "scale": {"domain": ["b","r"], "range": ["#0000ff","#ff0000"]}, "legend": {"title": null, "labelExpr": "datum.value == 'b' ? '03–06h (17365 samples, bias: 1.3e–02m/s, std: 2.3e+00m/s)' : '09–12h (17365 samples, bias: –5.9e–02m/s, std: 2.6e+00m/s)'"}}}}
    ]
  },
  {
    "width": 511, "height": 170,
    "title": {"text": "PDF of U@ 940 (+– 10) hPa", "offset": 0},
    "encoding": {
      "x": {"field": "x", "type": "quantitative", "scale": {"domain": [-10, 10], "nice": false, "zero": false}, "axis": {"values": [-10,-8,-6,-4,-2,0,2,4,6,8,10], "title": "departure normalized by std"}},
      "y": {"field": "y", "type": "quantitative", "scale": {"type": "log", "domain": [0.00001, 100], "nice": false}, "axis": {"values": [0.0001, 0.01, 1, 100], "labelExpr": "datum.value > 10 ? '10²' : datum.value > 0.1 ? '10⁰' : datum.value > 0.001 ? '10⁻²' : '10⁻⁴'", "title": "Normalized Frequency"}}
    },
    "layer": [
      {"data": {"name": "empW"}, "mark": {"type": "line", "strokeWidth": 1.2, "clip": true},
       "encoding": {"color": {"field": "s", "type": "nominal", "scale": {"domain": ["b","r"], "range": ["#0000ff","#ff0000"]}, "legend": {"title": null, "labelExpr": "datum.value == 'b' ? '03–06h (19687 samples, bias: –6.6e–01m/s, std: 2.5e+00m/s)' : '09–12h (19687 samples, bias: –7.7e–01m/s, std: 2.7e+00m/s)'"}}, "detail": {"field": "g", "type": "nominal"}}},
      {"data": {"name": "gauW"}, "mark": {"type": "line", "strokeWidth": 1.2, "clip": true, "interpolate": "monotone"},
       "encoding": {"color": {"field": "s", "type": "nominal", "scale": {"domain": ["b","r"], "range": ["#0000ff","#ff0000"]}, "legend": {"title": null, "labelExpr": "datum.value == 'b' ? '03–06h (19687 samples, bias: –6.6e–01m/s, std: 2.5e+00m/s)' : '09–12h (19687 samples, bias: –7.7e–01m/s, std: 2.7e+00m/s)'"}}}}
    ]
  },
  {
    "width": 511, "height": 169,
    "title": {"text": "Normal Probability Plot", "offset": -5.5},
    "encoding": {
      "x": {"field": "x", "type": "quantitative", "scale": {"domain": [-10, 10], "nice": false, "zero": false}, "axis": {"values": [-10,-8,-6,-4,-2,0,2,4,6,8,10], "title": "departure normalized by std"}},
      "y": {"field": "z", "type": "quantitative", "scale": {"domain": [-4.12, 4.15], "nice": false, "zero": false}, "axis": {"values": [-3.0902,-2.3263,-1.2816,-0.6745,0,0.6745,1.2816,2.3263,3.0902], "labelExpr": "datum.value < -3 ? '0.001' : datum.value < -2 ? '0.01' : datum.value < -1 ? '0.10' : datum.value < -0.5 ? '0.25' : datum.value < 0.5 ? '0.50' : datum.value < 1 ? '0.75' : datum.value < 2 ? '0.90' : datum.value < 3 ? '0.99' : '0.999'", "title": "Probability"}}
    },
    "layer": [
      {"data": {"name": "npS"}, "mark": {"type": "line", "strokeWidth": 1.2, "clip": true},
       "encoding": {"color": {"field": "s", "type": "nominal", "scale": {"domain": ["b","r"], "range": ["#0000ff","#ff0000"]}, "legend": {"title": null, "labelExpr": "datum.value == 'b' ? 'normrange: 87.4%' : 'normrange: 85.1%'"}}}},
      {"data": {"name": "fitS"}, "mark": {"type": "line", "strokeWidth": 1.2, "strokeDash": [6, 3, 1.5, 3], "clip": true},
       "encoding": {"stroke": {"field": "s", "type": "nominal", "scale": {"domain": ["b","r"], "range": ["#0000ff","#ff0000"]}, "legend": null}}},
      {"data": {"name": "starS"}, "mark": {"type": "point", "shape": "M-1,0L1,0M0,-1L0,1M-0.7,-0.7L0.7,0.7M-0.7,0.7L0.7,-0.7", "size": 80, "filled": false, "strokeWidth": 1.2, "opacity": 1},
       "encoding": {"stroke": {"field": "s", "type": "nominal", "scale": {"domain": ["b","r"], "range": ["#0000ff","#ff0000"]}, "legend": null}}},
      {"data": {"values": [{"t": "Summer", "x": 1.57, "z": 3.68}]}, "mark": {"type": "text", "font": "DejaVu Serif", "fontWeight": "bold", "fontSize": 26, "align": "center", "baseline": "alphabetic", "fill": "black"},
       "encoding": {"text": {"field": "t"}}},
      {"data": {"values": [{"t": "Figure 46: As Figure 3, but for zonal wind departures at 940 hPa from windprofiler obser-", "x": -10, "z": 0.62}, {"t": "vations.", "x": -10, "z": -1.24}]}, "mark": {"type": "text", "font": "DejaVu Serif", "fontSize": 25.6, "align": "left", "baseline": "alphabetic", "fill": "black"},
       "encoding": {"text": {"field": "t"}}}
    ]
  },
  {
    "width": 511, "height": 169,
    "title": {"text": "Normal Probability Plot", "offset": -5.5},
    "encoding": {
      "x": {"field": "x", "type": "quantitative", "scale": {"domain": [-10, 10], "nice": false, "zero": false}, "axis": {"values": [-10,-8,-6,-4,-2,0,2,4,6,8,10], "title": "departure normalized by std"}},
      "y": {"field": "z", "type": "quantitative", "scale": {"domain": [-4.12, 4.15], "nice": false, "zero": false}, "axis": {"values": [-3.0902,-2.3263,-1.2816,-0.6745,0,0.6745,1.2816,2.3263,3.0902], "labelExpr": "datum.value < -3 ? '0.001' : datum.value < -2 ? '0.01' : datum.value < -1 ? '0.10' : datum.value < -0.5 ? '0.25' : datum.value < 0.5 ? '0.50' : datum.value < 1 ? '0.75' : datum.value < 2 ? '0.90' : datum.value < 3 ? '0.99' : '0.999'", "title": "Probability"}}
    },
    "layer": [
      {"data": {"name": "npW"}, "mark": {"type": "line", "strokeWidth": 1.2, "clip": true},
       "encoding": {"color": {"field": "s", "type": "nominal", "scale": {"domain": ["b","r"], "range": ["#0000ff","#ff0000"]}, "legend": {"title": null, "labelExpr": "datum.value == 'b' ? 'normrange: 85.5%' : 'normrange: 84.1%'"}}}},
      {"data": {"name": "fitW"}, "mark": {"type": "line", "strokeWidth": 1.2, "strokeDash": [6, 3, 1.5, 3], "clip": true},
       "encoding": {"stroke": {"field": "s", "type": "nominal", "scale": {"domain": ["b","r"], "range": ["#0000ff","#ff0000"]}, "legend": null}}},
      {"data": {"name": "starW"}, "mark": {"type": "point", "shape": "M-1,0L1,0M0,-1L0,1M-0.7,-0.7L0.7,0.7M-0.7,0.7L0.7,-0.7", "size": 80, "filled": false, "strokeWidth": 1.2, "opacity": 1},
       "encoding": {"stroke": {"field": "s", "type": "nominal", "scale": {"domain": ["b","r"], "range": ["#0000ff","#ff0000"]}, "legend": null}}},
      {"data": {"values": [{"t": "Winter", "x": 1.27, "z": 3.68}]}, "mark": {"type": "text", "font": "DejaVu Serif", "fontWeight": "bold", "fontSize": 26, "align": "center", "baseline": "alphabetic", "fill": "black"},
       "encoding": {"text": {"field": "t"}}}
    ]
  }
]
}
